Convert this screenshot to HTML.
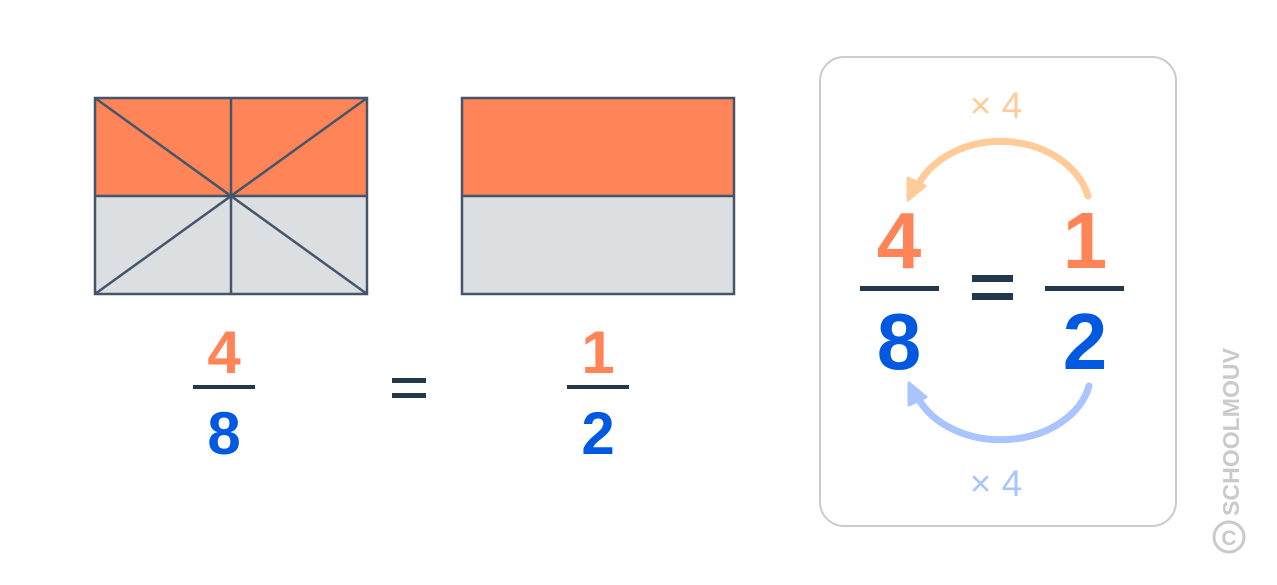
<!DOCTYPE html>
<html><head><meta charset="utf-8"><style>
html,body{margin:0;padding:0;background:#fff;width:1277px;height:585px;overflow:hidden}
text{font-family:"Liberation Sans","DejaVu Sans",sans-serif;font-weight:bold}
</style></head><body>
<svg width="1277" height="585" viewBox="0 0 1277 585" xmlns="http://www.w3.org/2000/svg">
<rect x="95" y="98" width="272" height="98" fill="#FF8457"/>
<rect x="95" y="196" width="272" height="98" fill="#DCDFE2"/>
<g stroke="#46566A" stroke-width="2.5" fill="none">
<rect x="95" y="98" width="272" height="196"/>
<line x1="95" y1="196" x2="367" y2="196"/>
<line x1="231" y1="98" x2="231" y2="294"/>
<line x1="95" y1="98" x2="367" y2="294"/>
<line x1="367" y1="98" x2="95" y2="294"/>
</g>
<rect x="462" y="98" width="272" height="98" fill="#FF8457"/>
<rect x="462" y="196" width="272" height="98" fill="#DCDFE2"/>
<g stroke="#46566A" stroke-width="2.5" fill="none">
<rect x="462" y="98" width="272" height="196"/>
<line x1="462" y1="196" x2="734" y2="196"/>
</g>
<text x="224" y="373" font-size="60" fill="#FF8457" text-anchor="middle">4</text>
<rect x="193" y="385" width="62" height="4" fill="#22384F"/>
<text x="224" y="454" font-size="60" fill="#0059E0" text-anchor="middle">8</text>
<rect x="392" y="378" width="34" height="5" fill="#22384F"/>
<rect x="392" y="393" width="34" height="5" fill="#22384F"/>
<text x="598" y="373" font-size="60" fill="#FF8457" text-anchor="middle">1</text>
<rect x="567" y="385" width="62" height="4" fill="#22384F"/>
<text x="598" y="454" font-size="60" fill="#0059E0" text-anchor="middle">2</text>
<rect x="820" y="57" width="356" height="469" rx="24" fill="#fff" stroke="#C8CBD0" stroke-width="2"/>
<text x="996" y="118" font-size="37" fill="#FFCC99" text-anchor="middle" style="font-weight:normal">× 4</text>
<path d="M1088,196 A90,72 0 0 0 918,185" fill="none" stroke="#FFCC99" stroke-width="7" stroke-linecap="round"/>
<polygon points="908,200 908,178 925,186" fill="#FFCC99" stroke="#FFCC99" stroke-width="3" stroke-linejoin="round"/>
<text x="899" y="268" font-size="80" fill="#FF8457" text-anchor="middle">4</text>
<rect x="860" y="286" width="79" height="5" fill="#22384F"/>
<text x="899" y="369" font-size="80" fill="#0059E0" text-anchor="middle">8</text>
<rect x="972" y="275" width="41" height="7" fill="#22384F"/>
<rect x="972" y="293" width="41" height="7" fill="#22384F"/>
<text x="1085" y="268" font-size="80" fill="#FF8457" text-anchor="middle">1</text>
<rect x="1045" y="286" width="79" height="5" fill="#22384F"/>
<text x="1085" y="369" font-size="80" fill="#0059E0" text-anchor="middle">2</text>
<path d="M1089,386 A90,68 0 0 1 918,398" fill="none" stroke="#AAC4FF" stroke-width="7" stroke-linecap="round"/>
<polygon points="909,383 909,405 926,397" fill="#AAC4FF" stroke="#AAC4FF" stroke-width="3" stroke-linejoin="round"/>
<text x="996" y="496" font-size="37" fill="#AAC4FF" text-anchor="middle" style="font-weight:normal">× 4</text>
<text transform="translate(1239,516) rotate(-90)" font-size="23" fill="#CACACA" textLength="168" lengthAdjust="spacingAndGlyphs">SCHOOLMOUV</text>
<circle cx="1229" cy="537" r="15" fill="none" stroke="#CACACA" stroke-width="3"/>
<text x="1229" y="545" font-size="21" fill="#CACACA" text-anchor="middle">C</text>
</svg>
</body></html>
